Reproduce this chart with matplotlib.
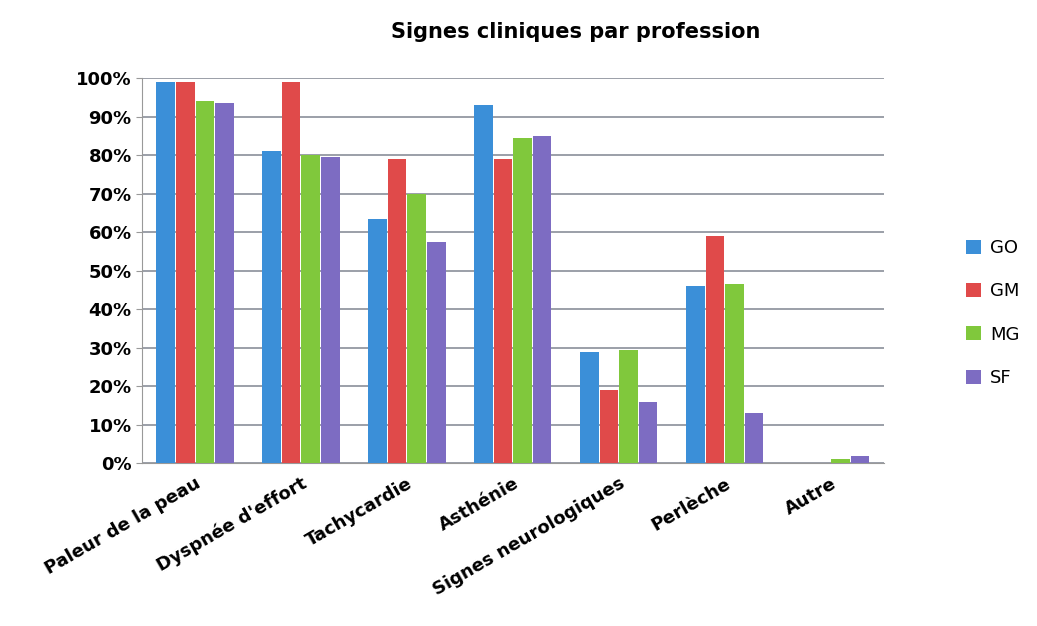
import numpy as np
import matplotlib.pyplot as plt
from matplotlib.ticker import PercentFormatter

# data
categories = ["Paleur de la peau", "Dyspnée d'effort", "Tachycardie", "Asthénie",
              "Signes neurologiques", "Perlèche", "Autre"]
go = [99, 81, 63.5, 93, 29, 46, 0]
gm = [99, 99, 79, 79, 19, 59, 0]
mg = [94, 80, 70, 84.5, 29.5, 46.5, 1]
sf = [93.5, 79.5, 57.5, 85, 16, 13, 2]
series = ["GO", "GM", "MG", "SF"]
colors = ["#3b8fd8", "#e04a4a", "#80c83c", "#7d6cc2"]

fig = plt.figure(figsize=(10.37, 6.26), dpi=100)
ax = fig.add_axes([0.137, 0.26, 0.715, 0.615])

x = np.arange(len(categories))
w = 0.185
for i, (vals, name, c) in enumerate(zip([go, gm, mg, sf], series, colors)):
    ax.bar(x + (i - 1.5) * w, vals, width=w * 0.95, color=c, label=name,
           edgecolor="none", zorder=3)

ax.set_ylim(0, 100)
ax.set_xlim(-0.5, len(categories) - 0.5)
ax.set_yticks(np.arange(0, 101, 10))
ax.yaxis.set_major_formatter(PercentFormatter(decimals=0))
ax.grid(axis="y", color="#8a8f99", linewidth=1.2, zorder=0)
ax.set_xticks(x)
ax.set_xticklabels(categories, rotation=30, ha="right", rotation_mode="anchor",
                   fontsize=13, fontweight="bold")
for lbl in ax.get_yticklabels():
    lbl.set_fontsize(13)
    lbl.set_fontweight("bold")
for s in ["top", "right"]:
    ax.spines[s].set_visible(False)
ax.spines["left"].set_color("#999999")
ax.spines["bottom"].set_color("#999999")
ax.tick_params(axis="y", length=4, color="#999999")
ax.tick_params(axis="x", length=0, pad=8)

fig.suptitle("Signes cliniques par profession", x=0.555, y=0.965,
             fontsize=15, fontweight="bold")
fig.legend(loc="center left", bbox_to_anchor=(0.932, 0.5), frameon=False,
           handlelength=0.8, handleheight=0.8, labelspacing=1.4,
           handletextpad=0.5, borderpad=0, borderaxespad=0,
           prop={"size": 13})

fig.savefig("out.png", dpi=100)
